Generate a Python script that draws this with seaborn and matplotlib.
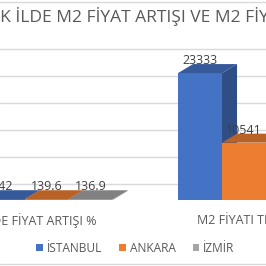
import numpy as np
import pandas as pd
import seaborn as sns
import matplotlib
matplotlib.use("Agg")
import matplotlib.pyplot as plt
import matplotlib.transforms as mtransforms
from matplotlib.patches import Polygon, Patch
from matplotlib.lines import Line2D

# ---- data ----
categories = ["İLDE FİYAT ARTIŞI %", "M2 FİYATI TL"]
cities = ["İSTANBUL", "ANKARA", "İZMİR"]
artis_pct = [142, 139.6, 136.9]
m2_fiyat = [23333, 10541, 9000]
colors = ["#4472C4", "#ED7D31", "#A5A5A5"]
title = "3 BÜYÜK İLDE M2 FİYAT ARTIŞI VE M2 FİYATI"

rows = []
for c, v in zip(cities, artis_pct):
    rows.append((categories[0], c, v))
for c, v in zip(cities, m2_fiyat):
    rows.append((categories[1], c, v))
df = pd.DataFrame(rows, columns=["cat", "city", "val"])

sns.set_theme(style="white")
plt.rcParams["font.family"] = ["Open Sans", "DejaVu Sans"]

W = H = 266
fig = plt.figure(figsize=(W / 100, H / 100), dpi=100)
fig.patch.set_facecolor("white")

base_px = 200          # front baseline (px from top)
px_per_unit = 5.44 / 1000
cat0_px, cat_step = 46.5, 197.5
ax = fig.add_axes([0, (H - base_px) / H, 1, base_px / H])
ax.patch.set_alpha(0)

sns.barplot(data=df, x="cat", y="val", hue="city", palette=colors,
            width=0.668, saturation=1, ax=ax, legend=False, linewidth=0)

ymax = base_px / px_per_unit
ax.set_ylim(0, ymax)
ax.set_xlim(-cat0_px / cat_step, (W - cat0_px) / cat_step)
for s in ax.spines.values():
    s.set_visible(False)
ax.set_xticks([])
ax.set_yticks([])
ax.set_xlabel("")
ax.set_ylabel("")

# 3D depth
dx = 15 / cat_step
dy = 9 / px_per_unit

def shade(col, f):
    r, g, b, a = col
    return (r * f, g * f, b * f, 1)

bars = sorted([p for p in ax.patches], key=lambda p: p.get_x())
for j, p in enumerate(bars):
    x0, w, h = p.get_x(), p.get_width(), p.get_height()
    fc = p.get_facecolor()
    z = 3 + j
    p.set_zorder(z)
    side = Polygon([(x0 + w, 0), (x0 + w, h), (x0 + w + dx, h + dy), (x0 + w + dx, dy)],
                   closed=True, facecolor=shade(fc, 0.68), edgecolor="none", zorder=z + 0.4)
    top = Polygon([(x0, h), (x0 + w, h), (x0 + w + dx, h + dy), (x0 + dx, h + dy)],
                  closed=True, facecolor=shade(fc, 0.78), edgecolor="none", zorder=z + 0.5)
    ax.add_patch(side)
    ax.add_patch(top)
    ax.annotate(f"{h:g}", (x0 + w / 2, h + dy), xytext=(0, 2.5),
                textcoords="offset points", ha="center", va="center",
                fontsize=9, color="#404040", zorder=50)

# gridlines on back wall
wall_off = mtransforms.ScaledTranslation(0, 16 / 100, fig.dpi_scale_trans)
for k in range(0, 6):
    v = k * 5000 * 0.989
    ax.plot([0, 1], [v, v], transform=ax.get_yaxis_transform() + wall_off,
            color="#D9D9D9", lw=1, zorder=0.5, clip_on=False)

# category labels
lab_y = -(221 - base_px) / base_px
ax.text((97 - cat0_px) / cat_step, lab_y, categories[0], transform=ax.get_xaxis_transform(),
        ha="right", va="center", fontsize=9, color="#595959")
ax.text((197 - cat0_px) / cat_step, lab_y, categories[1], transform=ax.get_xaxis_transform(),
        ha="left", va="center", fontsize=9, color="#595959")

# title
fig.text(117 / W, 1 - 17 / H, title, ha="center", va="center", fontsize=12.5, color="#595959")

# legend
handles = [Patch(facecolor=c, edgecolor="none", label=n) for c, n in zip(colors, cities)]
fig.legend(handles=handles, loc="center", bbox_to_anchor=(135.5 / W, 1 - 248 / H), ncol=3,
           frameon=False, fontsize=8.6, handlelength=0.55, handleheight=0.55,
           handletextpad=0.35, columnspacing=1.4, labelcolor="#595959",
           borderpad=0, borderaxespad=0)

# chart border lines
for yy in (1.5, 263.5):
    fig.add_artist(Line2D([0, 1], [1 - yy / H, 1 - yy / H], transform=fig.transFigure,
                          color="#D9D9D9", lw=1))

fig.savefig("out.png", dpi=100)
